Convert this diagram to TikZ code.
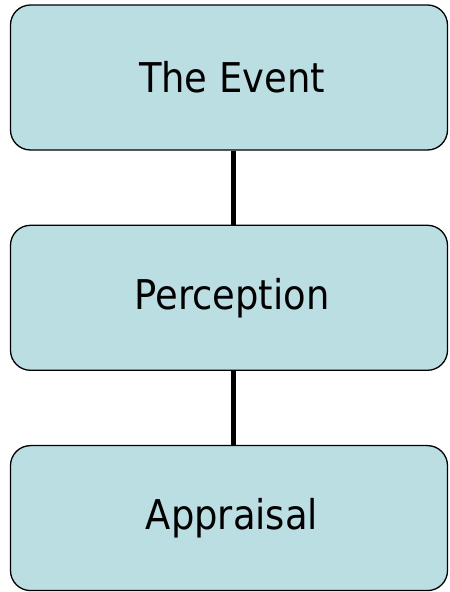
\documentclass[tikz,border=0pt]{standalone}
\usepackage{fontspec}
\setmainfont{DejaVu Sans Condensed}
\usepackage{tikz}
\usepackage{xcolor}
\usetikzlibrary{positioning}

\definecolor{stageblue}{RGB}{187,222,227}

\begin{document}
\begin{tikzpicture}[x=1pt, y=1pt,
    stage/.style={draw=black, line width=1.3pt, fill=stageblue, rounded corners=20pt,
        minimum width=437pt, minimum height=145pt, inner sep=0pt,
        font=\fontsize{41}{49}\selectfont},
    link/.style={line width=5pt, black}]
    \useasboundingbox (0,0) rectangle (450,592);

    % The three stages, top to bottom
    \node[stage] (event) at (229,514.5) {\hspace*{6pt}The Event};
    \node[stage, below=74pt of event] (perception) {\hspace*{6pt}Perception};
    \node[stage, below=74pt of perception] (appraisal) {\hspace*{6pt}Appraisal};

    % Connectors between the stages
    \draw[link] ([xshift=4pt]event.south) -- ([xshift=4pt]perception.north);
    \draw[link] ([xshift=4pt]perception.south) -- ([xshift=4pt]appraisal.north);
\end{tikzpicture}
\end{document}
